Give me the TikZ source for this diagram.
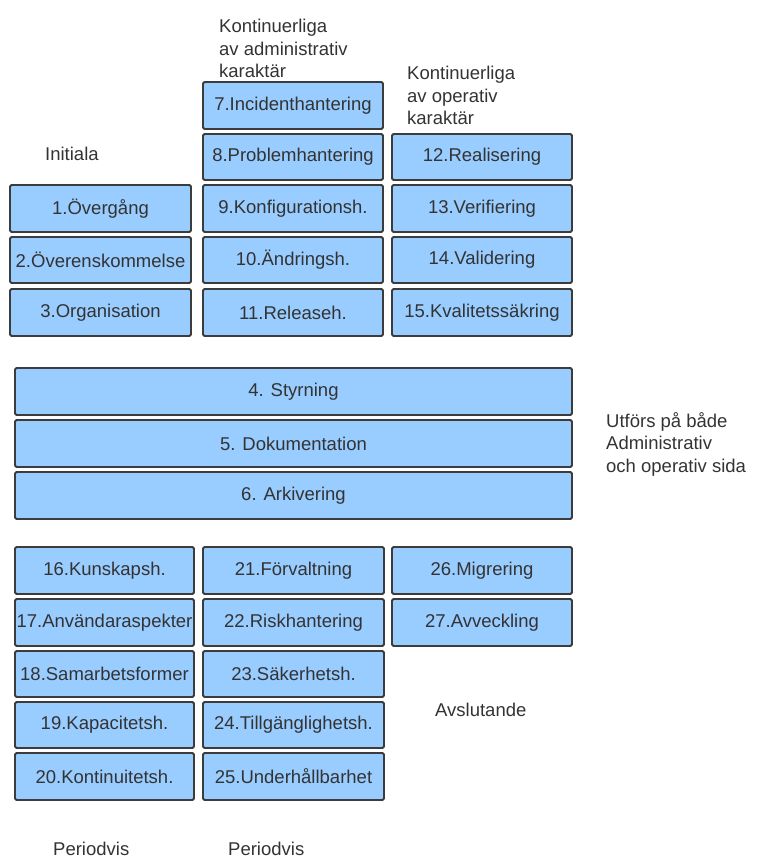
\documentclass[tikz,border=0pt]{standalone}
\usepackage{fontspec}
\setmainfont{Liberation Sans}
\begin{document}
\begin{tikzpicture}[x=1pt,y=-1pt,
  box/.style={draw=boxline, line width=1.8pt, fill=boxfill, rounded corners=1.5pt,
    inner sep=0pt, text=txt, font=\fontsize{18.5}{22}\selectfont},
  lbl/.style={inner sep=0pt, text=txt, font=\fontsize{18.5}{22.5}\selectfont, align=left}]
\definecolor{boxfill}{HTML}{99CCFF}
\definecolor{boxline}{HTML}{3C3C3C}
\definecolor{txt}{HTML}{333333}
\useasboundingbox (0,0) rectangle (762,859);
\newcommand\bx[6]{\node[box, minimum width={#4-#2}, minimum height={#5-#3}]
  (#1) at ({(#2+#4)/2},{(#3+#5)/2}) {#6};}
% top left column: initial tasks
\bx{b1}{10}{185}{191}{232}{1.Övergång}
\bx{b2}{10}{237}{191}{283}{2.Överenskommelse}
\bx{b3}{10}{289}{191}{336}{3.Organisation}
% continuous, administrative
\bx{b7}{203}{82}{383}{129}{7.Incidenthantering}
\bx{b8}{203}{134}{383}{180}{8.Problemhantering}
\bx{b9}{203}{185}{383}{232}{9.Konfigurationsh.}
\bx{b10}{203}{237}{383}{283}{10.Ändringsh.}
\bx{b11}{203}{289}{383}{336}{11.Releaseh.}
% continuous, operative
\bx{b12}{392}{134}{572}{180}{12.Realisering}
\bx{b13}{392}{185}{572}{232}{13.Verifiering}
\bx{b14}{392}{237}{572}{283}{14.Validering}
\bx{b15}{392}{289}{572}{336}{15.Kvalitetssäkring}
% shared tasks
\bx{b4}{15}{368}{572}{415}{4. Styrning}
\bx{b5}{15}{420}{572}{467}{5. Dokumentation}
\bx{b6}{15}{472}{572}{519}{6. Arkivering}
% periodic
\bx{b16}{15}{547}{194}{594}{16.Kunskapsh.}
\bx{b17}{15}{599}{194}{646}{17.Användaraspekter}
\bx{b18}{15}{651}{194}{697}{18.Samarbetsformer}
\bx{b19}{15}{702}{194}{748}{19.Kapacitetsh.}
\bx{b20}{15}{753}{194}{800}{20.Kontinuitetsh.}
\bx{b21}{203}{547}{384}{594}{21.Förvaltning}
\bx{b22}{203}{599}{384}{646}{22.Riskhantering}
\bx{b23}{203}{651}{384}{697}{23.Säkerhetsh.}
\bx{b24}{203}{702}{384}{748}{24.Tillgänglighetsh.}
\bx{b25}{203}{753}{384}{800}{25.Underhållbarhet}
% closing
\bx{b26}{392}{547}{572}{594}{26.Migrering}
\bx{b27}{392}{599}{572}{646}{27.Avveckling}
% group labels
\node[lbl, anchor=north west] (ladm) at (219,19) {Kontinuerliga\\av administrativ\\karaktär};
\node[lbl, anchor=north west] (lop) at (407,66) {Kontinuerliga\\av operativ\\karaktär};
\node[lbl, anchor=west] (linit) at (45,154) {Initiala};
\node[lbl, anchor=north west] (lboth) at (606,412) {Utförs på både\\Administrativ\\och operativ sida};
\node[lbl, anchor=west] (lend) at (435,710) {Avslutande};
\node[lbl, anchor=base west] (lper1) at (53,855) {Periodvis};
\node[lbl, anchor=base west] (lper2) at (228,855) {Periodvis};
\end{tikzpicture}
\end{document}
